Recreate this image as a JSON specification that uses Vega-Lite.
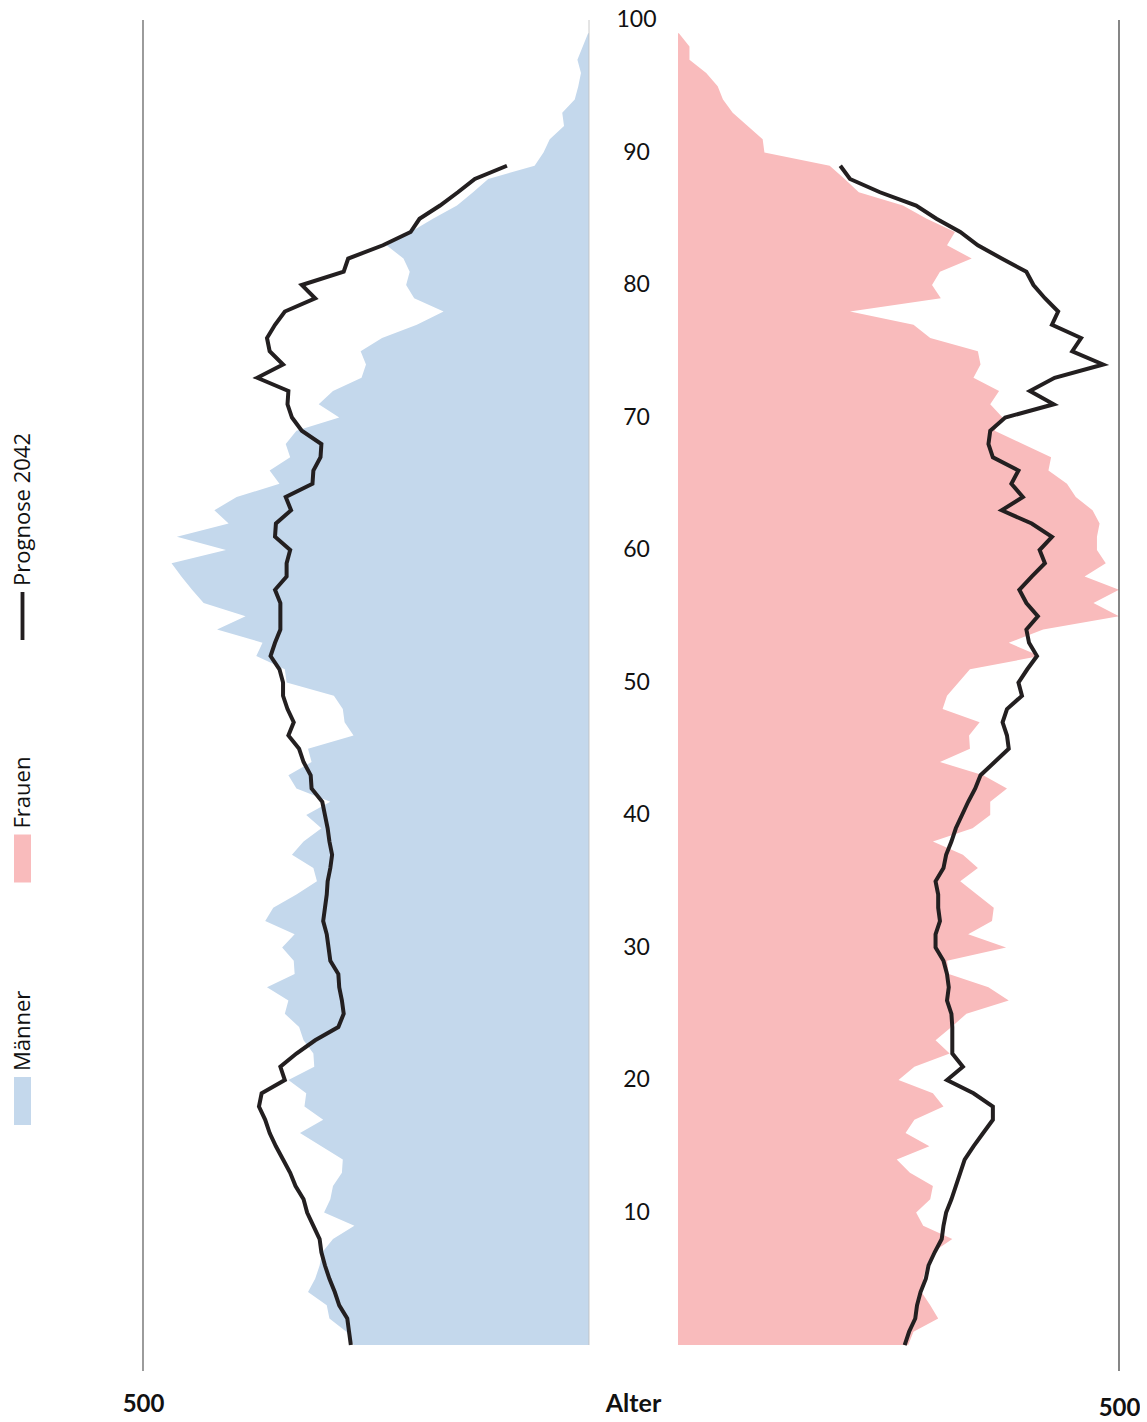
{
  "$schema": "https://vega.github.io/schema/vega-lite/v6.json",
  "padding": 0,
  "background": "white",
  "config": {"view": {"stroke": null}, "font": "Lato"},
  "datasets": {
    "pop": [
      {"age":0,"m":264,"f":261,"mp":267,"fp":257},
      {"age":1,"m":272,"f":267,"mp":269,"fp":262},
      {"age":2,"m":291,"f":295,"mp":271,"fp":269},
      {"age":3,"m":294,"f":286,"mp":280,"fp":271},
      {"age":4,"m":315,"f":276,"mp":285,"fp":275},
      {"age":5,"m":307,"f":278,"mp":291,"fp":281},
      {"age":6,"m":302,"f":282,"mp":296,"fp":284},
      {"age":7,"m":299,"f":289,"mp":300,"fp":291},
      {"age":8,"m":287,"f":311,"mp":302,"fp":299},
      {"age":9,"m":263,"f":278,"mp":309,"fp":301},
      {"age":10,"m":297,"f":270,"mp":316,"fp":304},
      {"age":11,"m":290,"f":286,"mp":320,"fp":310},
      {"age":12,"m":287,"f":289,"mp":329,"fp":315},
      {"age":13,"m":277,"f":263,"mp":335,"fp":320},
      {"age":14,"m":276,"f":248,"mp":343,"fp":325},
      {"age":15,"m":300,"f":285,"mp":351,"fp":335},
      {"age":16,"m":324,"f":258,"mp":358,"fp":346},
      {"age":17,"m":298,"f":268,"mp":363,"fp":357},
      {"age":18,"m":319,"f":301,"mp":370,"fp":357},
      {"age":19,"m":317,"f":289,"mp":367,"fp":335},
      {"age":20,"m":337,"f":250,"mp":341,"fp":305},
      {"age":21,"m":308,"f":268,"mp":346,"fp":323},
      {"age":22,"m":309,"f":308,"mp":328,"fp":311},
      {"age":23,"m":320,"f":292,"mp":307,"fp":311},
      {"age":24,"m":325,"f":310,"mp":281,"fp":311},
      {"age":25,"m":341,"f":327,"mp":275,"fp":310},
      {"age":26,"m":337,"f":375,"mp":277,"fp":305},
      {"age":27,"m":361,"f":352,"mp":280,"fp":307},
      {"age":28,"m":330,"f":307,"mp":281,"fp":305},
      {"age":29,"m":331,"f":305,"mp":290,"fp":301},
      {"age":30,"m":344,"f":372,"mp":292,"fp":292},
      {"age":31,"m":330,"f":329,"mp":294,"fp":292},
      {"age":32,"m":363,"f":356,"mp":298,"fp":297},
      {"age":33,"m":354,"f":358,"mp":296,"fp":295},
      {"age":34,"m":328,"f":339,"mp":294,"fp":295},
      {"age":35,"m":305,"f":320,"mp":293,"fp":292},
      {"age":36,"m":309,"f":340,"mp":290,"fp":301},
      {"age":37,"m":333,"f":323,"mp":288,"fp":304},
      {"age":38,"m":320,"f":289,"mp":291,"fp":310},
      {"age":39,"m":300,"f":334,"mp":293,"fp":315},
      {"age":40,"m":317,"f":354,"mp":296,"fp":322},
      {"age":41,"m":290,"f":354,"mp":299,"fp":329},
      {"age":42,"m":328,"f":373,"mp":311,"fp":337},
      {"age":43,"m":337,"f":346,"mp":312,"fp":343},
      {"age":44,"m":311,"f":297,"mp":320,"fp":359},
      {"age":45,"m":315,"f":331,"mp":325,"fp":375},
      {"age":46,"m":264,"f":330,"mp":337,"fp":373},
      {"age":47,"m":274,"f":342,"mp":331,"fp":368},
      {"age":48,"m":276,"f":300,"mp":338,"fp":373},
      {"age":49,"m":286,"f":305,"mp":343,"fp":390},
      {"age":50,"m":339,"f":318,"mp":343,"fp":386},
      {"age":51,"m":341,"f":331,"mp":347,"fp":396},
      {"age":52,"m":373,"f":410,"mp":357,"fp":407},
      {"age":53,"m":366,"f":375,"mp":352,"fp":398},
      {"age":54,"m":417,"f":414,"mp":346,"fp":395},
      {"age":55,"m":385,"f":500,"mp":346,"fp":408},
      {"age":56,"m":432,"f":471,"mp":346,"fp":395},
      {"age":57,"m":445,"f":500,"mp":352,"fp":387},
      {"age":58,"m":457,"f":461,"mp":339,"fp":401},
      {"age":59,"m":468,"f":485,"mp":339,"fp":416},
      {"age":60,"m":407,"f":475,"mp":335,"fp":410},
      {"age":61,"m":462,"f":475,"mp":352,"fp":424},
      {"age":62,"m":404,"f":478,"mp":351,"fp":401},
      {"age":63,"m":420,"f":470,"mp":334,"fp":367},
      {"age":64,"m":395,"f":451,"mp":340,"fp":391},
      {"age":65,"m":347,"f":441,"mp":310,"fp":378},
      {"age":66,"m":358,"f":420,"mp":309,"fp":386},
      {"age":67,"m":335,"f":423,"mp":301,"fp":357},
      {"age":68,"m":340,"f":391,"mp":300,"fp":352},
      {"age":69,"m":328,"f":359,"mp":322,"fp":354},
      {"age":70,"m":280,"f":368,"mp":333,"fp":371},
      {"age":71,"m":303,"f":354,"mp":338,"fp":426},
      {"age":72,"m":287,"f":364,"mp":337,"fp":399},
      {"age":73,"m":255,"f":335,"mp":372,"fp":427},
      {"age":74,"m":250,"f":343,"mp":343,"fp":482},
      {"age":75,"m":256,"f":340,"mp":358,"fp":447},
      {"age":76,"m":232,"f":286,"mp":361,"fp":457},
      {"age":77,"m":193,"f":267,"mp":352,"fp":424},
      {"age":78,"m":163,"f":195,"mp":341,"fp":431},
      {"age":79,"m":196,"f":298,"mp":307,"fp":416},
      {"age":80,"m":205,"f":288,"mp":322,"fp":403},
      {"age":81,"m":201,"f":297,"mp":275,"fp":395},
      {"age":82,"m":208,"f":333,"mp":270,"fp":367},
      {"age":83,"m":227,"f":305,"mp":231,"fp":340},
      {"age":84,"m":200,"f":314,"mp":200,"fp":320},
      {"age":85,"m":175,"f":282,"mp":190,"fp":293},
      {"age":86,"m":148,"f":255,"mp":167,"fp":270},
      {"age":87,"m":130,"f":205,"mp":147,"fp":229},
      {"age":88,"m":113,"f":189,"mp":128,"fp":195},
      {"age":89,"m":61,"f":172,"mp":92,"fp":184},
      {"age":90,"m":51,"f":98,"mp":null,"fp":null},
      {"age":91,"m":44,"f":96,"mp":null,"fp":null},
      {"age":92,"m":28,"f":79,"mp":null,"fp":null},
      {"age":93,"m":30,"f":62,"mp":null,"fp":null},
      {"age":94,"m":16,"f":51,"mp":null,"fp":null},
      {"age":95,"m":12,"f":45,"mp":null,"fp":null},
      {"age":96,"m":9,"f":32,"mp":null,"fp":null},
      {"age":97,"m":13,"f":13,"mp":null,"fp":null},
      {"age":98,"m":7,"f":13,"mp":null,"fp":null},
      {"age":99,"m":1,"f":1,"mp":null,"fp":null}
    ],
    "ticks": [
      {"age":10},{"age":20},{"age":30},{"age":40},{"age":50},
      {"age":60},{"age":70},{"age":80},{"age":90},{"age":100}
    ],
    "legend": [
      {"series":"Prognose 2042"},{"series":"Frauen"},{"series":"Männer"}
    ]
  },
  "spacing": 98,
  "bounds": "flush",
  "hconcat": [
    {
      "width": 45,
      "height": 1371,
      "data": {"name": "legend"},
      "encoding": {
        "y": {"field": "series", "type": "nominal",
              "scale": {"type": "point", "domain": ["Prognose 2042","Frauen","Männer"], "range": [616, 1101], "padding": 0},
              "axis": null}
      },
      "layer": [
        {
          "mark": {"type": "point", "filled": true, "size": 2304, "opacity": 1, "strokeWidth": 0},
          "encoding": {
            "fill": {"field": "series", "type": "nominal",
                     "scale": {"domain": ["Prognose 2042","Frauen","Männer"], "range": ["#231f20","#f9bbbc","#c4d8ec"]},
                     "legend": null},
            "shape": {"field": "series", "type": "nominal",
                      "scale": {"domain": ["Prognose 2042","Frauen","Männer"],
                                "range": ["M-0.08,-1L0.08,-1L0.08,1L-0.08,1Z","M-0.354,-1L0.354,-1L0.354,1L-0.354,1Z","M-0.354,-1L0.354,-1L0.354,1L-0.354,1Z"]},
                      "legend": null}
          }
        },
        {
          "mark": {"type": "text", "angle": 270, "align": "left", "baseline": "middle", "dx": 30, "fontSize": 22, "font": "Open Sans", "color": "#111"},
          "encoding": {"text": {"field": "series", "type": "nominal"}}
        }
      ]
    },
    {
      "spacing": 0,
      "bounds": "flush",
      "hconcat": [
        {
          "width": 446,
          "height": 1371,
          "layer": [
            {
              "data": {"name": "pop"},
              "mark": {"type": "area", "orient": "horizontal", "color": "#c4d8ec", "opacity": 1},
              "encoding": {
                "y": {"field": "age", "type": "quantitative", "scale": {"domain": [-1.96, 101.51], "nice": false, "zero": false}, "axis": null},
                "x": {"field": "m", "type": "quantitative",
                      "scale": {"domain": [0, 500], "reverse": true, "nice": false},
                      "axis": {"values": [500], "title": null, "domain": false, "ticks": false, "tickSize": 0, "grid": false,
                               "labelFlush": false, "labelPadding": 21, "labelFontSize": 24, "labelFontWeight": "bold",
                               "labelColor": "#111", "labelFont": "Lato"}}
              }
            },
            {
              "data": {"values": [{}]},
              "mark": {"type": "rule", "color": "#bdbdbd", "strokeWidth": 0.8},
              "encoding": {"x": {"datum": 0}, "y": {"datum": 0}, "y2": {"datum": 100}}
            },
            {
              "data": {"values": [{}]},
              "mark": {"type": "rule", "color": "#666", "strokeWidth": 1.3},
              "encoding": {"x": {"datum": 500}, "y": {"datum": 100}, "y2": {"datum": -1.96}}
            },
            {
              "data": {"name": "pop"},
              "mark": {"type": "line", "color": "#231f20", "strokeWidth": 4},
              "encoding": {
                "y": {"field": "age", "type": "quantitative"},
                "x": {"field": "mp", "type": "quantitative"},
                "order": {"field": "age", "type": "quantitative"}
              }
            }
          ]
        },
        {
          "width": 89,
          "height": 1371,
          "data": {"name": "ticks"},
          "mark": {"type": "text", "fontSize": 23, "font": "Lato", "color": "#111", "dx": 3, "baseline": "middle", "align": "center"},
          "encoding": {
            "y": {"field": "age", "type": "quantitative", "scale": {"domain": [-1.96, 101.51], "nice": false, "zero": false}, "axis": null},
            "text": {"field": "age", "type": "quantitative"}
          },
          "title": {"text": "Alter", "orient": "bottom", "anchor": "middle", "frame": "group", "fontSize": 25, "fontWeight": "bold", "font": "Lato", "color": "#111", "offset": 21}
        },
        {
          "width": 441,
          "height": 1371,
          "layer": [
            {
              "data": {"name": "pop"},
              "mark": {"type": "area", "orient": "horizontal", "color": "#f9bbbc", "opacity": 1},
              "encoding": {
                "y": {"field": "age", "type": "quantitative", "scale": {"domain": [-1.96, 101.51], "nice": false, "zero": false}, "axis": null},
                "x": {"field": "f", "type": "quantitative",
                      "scale": {"domain": [0, 500], "nice": false},
                      "axis": {"values": [500], "title": null, "domain": false, "ticks": false, "tickSize": 0, "grid": false,
                               "labelFlush": false, "labelPadding": 25, "labelFontSize": 24, "labelFontWeight": "bold",
                               "labelColor": "#111", "labelFont": "Lato"}}
              }
            },
            {
              "data": {"values": [{}]},
              "mark": {"type": "rule", "color": "#444", "strokeWidth": 1.3},
              "encoding": {"x": {"datum": 500}, "y": {"datum": 100}, "y2": {"datum": -1.96}}
            },
            {
              "data": {"name": "pop"},
              "mark": {"type": "line", "color": "#231f20", "strokeWidth": 4},
              "encoding": {
                "y": {"field": "age", "type": "quantitative"},
                "x": {"field": "fp", "type": "quantitative"},
                "order": {"field": "age", "type": "quantitative"}
              }
            }
          ]
        }
      ]
    }
  ]
}
